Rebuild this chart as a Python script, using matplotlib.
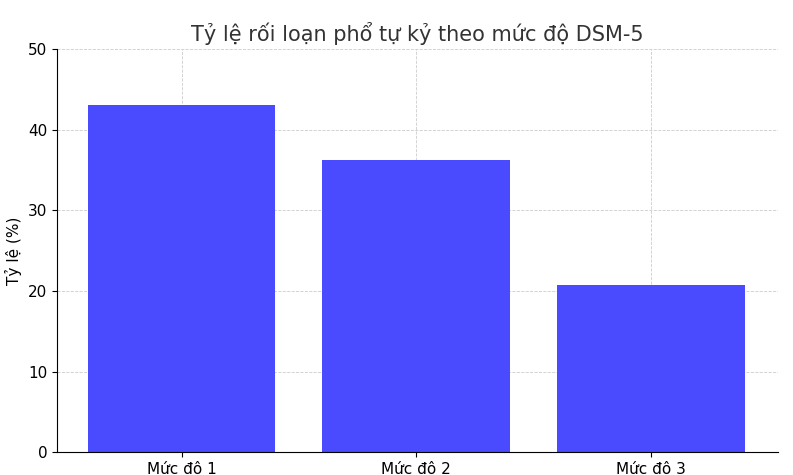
import matplotlib
matplotlib.use("Agg")
import matplotlib.pyplot as plt

categories = ["Mức độ 1", "Mức độ 2", "Mức độ 3"]
values = [43.1, 36.2, 20.7]

fig = plt.figure(figsize=(7.93, 4.75), dpi=100)
ax = fig.add_axes([0.072, 0.048, 0.909, 0.849])
ax.bar(categories, values, width=0.8, color="#4a4aff", zorder=2)
ax.set_ylim(0, 50)
ax.set_xlim(-0.53, 2.54)
ax.set_title("Tỷ lệ rối loạn phổ tự kỷ theo mức độ DSM-5", fontsize=15, color="#333333")
ax.set_ylabel("Tỷ lệ (%)", fontsize=11)
ax.grid(True, linestyle="--", linewidth=0.6, color="#cccccc", zorder=0)
ax.spines["top"].set_visible(False)
ax.spines["right"].set_visible(False)
ax.tick_params(labelsize=11)
fig.savefig("out.png", dpi=100)
